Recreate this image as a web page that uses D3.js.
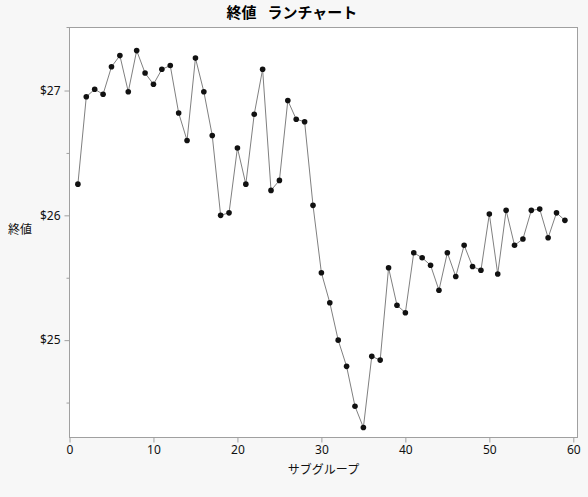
<!DOCTYPE html>
<html><head><meta charset="utf-8">
<script src="https://cdn.jsdelivr.net/npm/d3@7"></script>
<style>
body{margin:0;background:#f7f7f7;}
svg{display:block;}
text{font-family:"Noto Sans CJK JP","Noto Sans",sans-serif;}
</style></head>
<body><svg id="c" width="588" height="497"></svg>
<script>
const title = "終値\u2002 ランチャート";
const xLabel = "サブグループ";
const yLabel = "終値";
const subgroups = d3.range(1, 60);
const closeValues = [26.25,26.95,27.01,26.97,27.19,27.28,26.99,27.32,27.14,27.05,
27.17,27.20,26.82,26.60,27.26,26.99,26.64,26.00,26.02,26.54,
26.25,26.81,27.17,26.20,26.28,26.92,26.77,26.75,26.08,25.54,
25.30,25.00,24.79,24.47,24.30,24.87,24.84,25.58,25.28,25.22,
25.70,25.66,25.60,25.40,25.70,25.51,25.76,25.59,25.56,26.01,
25.53,26.04,25.76,25.81,26.04,26.05,25.82,26.02,25.96];
const xTicks = [0,10,20,30,40,50,60];
const yMajor = [25,26,27];
const yMinor = [24.5,25.5,26.5];

const L=69.5, R=577.5, T=27.5, B=437.5;
const svg = d3.select("#c");
const x = d3.scaleLinear().domain([0,60.5]).range([L,R]);
const y = d3.scaleLinear().domain([24.22,27.505]).range([B,T]);

svg.append("rect").attr("x",L).attr("y",T).attr("width",R-L).attr("height",B-T)
  .attr("fill","#fff").attr("stroke","#a0a0a0").attr("stroke-width",1);

const xa = svg.append("g").attr("transform",`translate(0,${B})`)
  .call(d3.axisBottom(x).tickValues(xTicks).tickSize(5).tickPadding(3).tickFormat(d3.format("d")));
const ya = svg.append("g").attr("transform",`translate(${L},0)`)
  .call(d3.axisLeft(y).tickValues(yMajor).tickSize(5).tickPadding(4).tickFormat(d=>"$"+d));
const ym = svg.append("g").attr("transform",`translate(${L},0)`)
  .call(d3.axisLeft(y).tickValues(yMinor).tickSize(3).tickFormat(""));
[xa,ya,ym].forEach(g=>{
  g.select(".domain").remove();
  g.selectAll("line").attr("stroke","#a0a0a0");
  g.selectAll("text").attr("fill","#111").style("font-size","12px").style("font-family","'Noto Sans','DejaVu Sans',sans-serif");
});
svg.append("line").attr("x1",L-3).attr("x2",L).attr("y1",T).attr("y2",T).attr("stroke","#a0a0a0");

const line = d3.line().x((d,i)=>x(subgroups[i])).y(d=>y(d));
svg.append("path").datum(closeValues).attr("d",line)
  .attr("fill","none").attr("stroke","#808080").attr("stroke-width",1);
svg.append("g").selectAll("circle").data(closeValues).join("circle")
  .attr("cx",(d,i)=>x(subgroups[i])).attr("cy",d=>y(d)).attr("r",2.8).attr("fill","#111");

svg.append("text").attr("x",292).attr("y",18).attr("text-anchor","middle")
  .style("font-size","15px").style("font-weight","bold").style("white-space","pre").attr("fill","#000").text(title);
svg.append("text").attr("x",(L+R)/2).attr("y",474).attr("text-anchor","middle")
  .style("font-size","12px").attr("fill","#111").text(xLabel);
svg.append("text").attr("x",20).attr("y",234).attr("text-anchor","middle")
  .style("font-size","12px").attr("fill","#111").text(yLabel);
</script></body></html>
